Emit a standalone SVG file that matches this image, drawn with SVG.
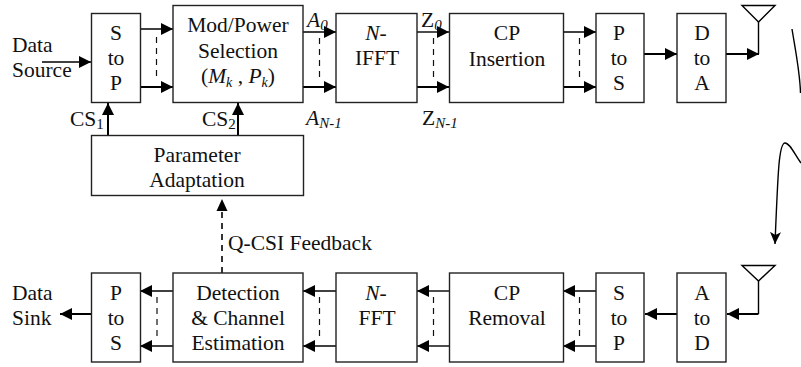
<svg xmlns="http://www.w3.org/2000/svg" width="801" height="367" viewBox="0 0 801 367">
<defs>
<marker id="a" viewBox="0 0 12 12" refX="12" refY="6" markerWidth="12" markerHeight="12" markerUnits="userSpaceOnUse" orient="auto"><path d="M0 0L12 6L0 12Z" fill="#000"/></marker>
<marker id="v" viewBox="0 0 12 12" refX="12" refY="5.500" markerWidth="12" markerHeight="12" markerUnits="userSpaceOnUse" orient="auto"><path d="M0 0L12 5.500L0 11L3 5.500Z" fill="#000"/></marker>
</defs>
<style>
text{font-family:"Liberation Serif","Times New Roman",serif;font-size:21.500px;fill:#111;text-anchor:middle}
.b{fill:#fff;stroke:#222;stroke-width:1.4}
.c{fill:none;stroke:#000;stroke-width:2}
.n{fill:none;stroke:#000;stroke-width:1.4}
.t{fill:none;stroke:#000;stroke-width:1.4}
.d{fill:none;stroke:#111;stroke-width:1.2;stroke-dasharray:6 5}
.s{font-size:14px;font-style:italic}
.l{text-anchor:start}
</style>
<rect width="801" height="367" fill="#fff"/>
<g id="connectors">
<path class="n" d="M42 62H91" marker-end="url(#a)"/>
<path class="n" d="M140 29H173" marker-end="url(#a)"/>
<path class="c" d="M140 87H173" marker-end="url(#a)"/>
<path class="d" d="M156.500 37V79"/>
<path class="n" d="M303 32H336" marker-end="url(#a)"/>
<path class="c" d="M303 87H336" marker-end="url(#a)"/>
<path class="d" d="M319.500 38V79"/>
<path class="n" d="M417 32H449" marker-end="url(#a)"/>
<path class="c" d="M417 87H449" marker-end="url(#a)"/>
<path class="d" d="M433.500 38V79"/>
<path class="n" d="M563 32H596" marker-end="url(#a)"/>
<path class="c" d="M563 87H596" marker-end="url(#a)"/>
<path class="d" d="M579.500 38V79"/>
<path class="c" d="M644 54H677" marker-end="url(#a)"/>
<path class="c" d="M726 54H759" marker-end="url(#a)"/>
<path class="t" d="M758.500 54V22"/>
<path class="t" d="M742 5.500H775L758.500 22Z"/>
<path class="c" d="M108 135V103" marker-end="url(#a)"/>
<path class="c" d="M238 135V103" marker-end="url(#a)"/>
<path class="d" d="M222 273V208" style="stroke-width:1.700"/>
<path d="M222 199L216.500 211H227.500Z" fill="#000"/>
<path class="n" d="M173 291H140" marker-end="url(#a)"/>
<path class="n" d="M173 346H140" marker-end="url(#a)"/>
<path class="d" d="M157 297V339"/>
<path class="n" d="M336 291H303" marker-end="url(#a)"/>
<path class="n" d="M336 346H303" marker-end="url(#a)"/>
<path class="d" d="M319.500 297V339"/>
<path class="n" d="M449 291H417" marker-end="url(#a)"/>
<path class="n" d="M449 346H417" marker-end="url(#a)"/>
<path class="d" d="M433.500 297V339"/>
<path class="n" d="M596 291H563" marker-end="url(#a)"/>
<path class="n" d="M596 346H563" marker-end="url(#a)"/>
<path class="d" d="M579.500 297V339"/>
<path class="c" d="M677 314H645" marker-end="url(#a)"/>
<path class="c" d="M758.500 314H727" marker-end="url(#a)"/>
<path class="t" d="M758.500 314V281"/>
<path class="t" d="M742 265.500H775L758.500 281Z"/>
<path class="c" d="M91 314H60" marker-end="url(#a)"/>
<path class="t" d="M792 29C795 48 800 72 800.500 93"/>
<path class="t" d="M801 163C795 155 790 143 785 143C779 143 778 170 775 244" marker-end="url(#v)"/>
</g>
<g id="data-source"><text x="12" y="52" class="l">Data</text><text x="12" y="77" class="l">Source</text></g>
<g id="s-to-p-tx"><rect class="b" x="91.500" y="13.500" width="49" height="89"/><text x="116" y="40">S</text><text x="116" y="65">to</text><text x="116" y="90">P</text></g>
<g id="mod-power"><rect class="b" x="173" y="5.500" width="130" height="97"/><text x="238" y="32">Mod/Power</text><text x="238" y="58">Selection</text><text x="238" y="83">(<tspan font-style="italic">M<tspan class="s" dy="4">k</tspan></tspan><tspan dy="-4"> , </tspan><tspan font-style="italic">P<tspan class="s" dy="4">k</tspan></tspan><tspan dy="-4">)</tspan></text></g>
<g id="ifft"><rect class="b" x="336" y="13.500" width="81" height="89"/><text x="376" y="40"><tspan font-style="italic">N</tspan>-</text><text x="377" y="65">IFFT</text></g>
<g id="cp-insertion"><rect class="b" x="449.500" y="13.500" width="114" height="89"/><text x="507" y="40">CP</text><text x="507" y="66">Insertion</text></g>
<g id="p-to-s-tx"><rect class="b" x="596" y="13.500" width="48" height="89"/><text x="619" y="40">P</text><text x="619" y="65">to</text><text x="619" y="90">S</text></g>
<g id="d-to-a"><rect class="b" x="677" y="13.500" width="49" height="89"/><text x="702" y="40">D</text><text x="702" y="65">to</text><text x="702" y="90">A</text></g>
<g id="parameter-adaptation"><rect class="b" x="91.500" y="135.500" width="212" height="60"/><text x="197" y="162">Parameter</text><text x="197" y="187">Adaptation</text></g>
<g id="p-to-s-rx"><rect class="b" x="91.500" y="273" width="49" height="89"/><text x="116" y="300">P</text><text x="116" y="325">to</text><text x="116" y="350">S</text></g>
<g id="detection"><rect class="b" x="173" y="273" width="130" height="89"/><text x="238" y="300">Detection</text><text x="238" y="325">&amp; Channel</text><text x="238" y="350">Estimation</text></g>
<g id="fft"><rect class="b" x="336" y="273" width="81" height="89"/><text x="376" y="300"><tspan font-style="italic">N</tspan>-</text><text x="377" y="325">FFT</text></g>
<g id="cp-removal"><rect class="b" x="449.500" y="273" width="114" height="89"/><text x="507" y="300">CP</text><text x="507" y="325">Removal</text></g>
<g id="s-to-p-rx"><rect class="b" x="596" y="273" width="48" height="89"/><text x="619" y="300">S</text><text x="619" y="325">to</text><text x="619" y="350">P</text></g>
<g id="a-to-d"><rect class="b" x="677" y="273" width="49" height="89"/><text x="702" y="300">A</text><text x="702" y="325">to</text><text x="702" y="350">D</text></g>
<g id="data-sink"><text x="12" y="300" class="l">Data</text><text x="12" y="325" class="l">Sink</text></g>
<g id="labels">
<text x="70" y="126" class="l">CS<tspan font-size="15" dy="3">1</tspan></text>
<text x="202" y="126" class="l">CS<tspan font-size="15" dy="3">2</tspan></text>
<text x="307" y="27" class="l" font-style="italic">A<tspan font-size="15" dy="3">0</tspan></text>
<text x="306" y="125" class="l" font-style="italic">A<tspan font-size="15" dy="3">N-1</tspan></text>
<text x="421" y="27" class="l">Z<tspan font-size="15" font-style="italic" dy="3">0</tspan></text>
<text x="422" y="125" class="l">Z<tspan font-size="15" font-style="italic" dy="3">N-1</tspan></text>
<text x="228" y="250" class="l">Q-CSI Feedback</text>
</g>
</svg>
